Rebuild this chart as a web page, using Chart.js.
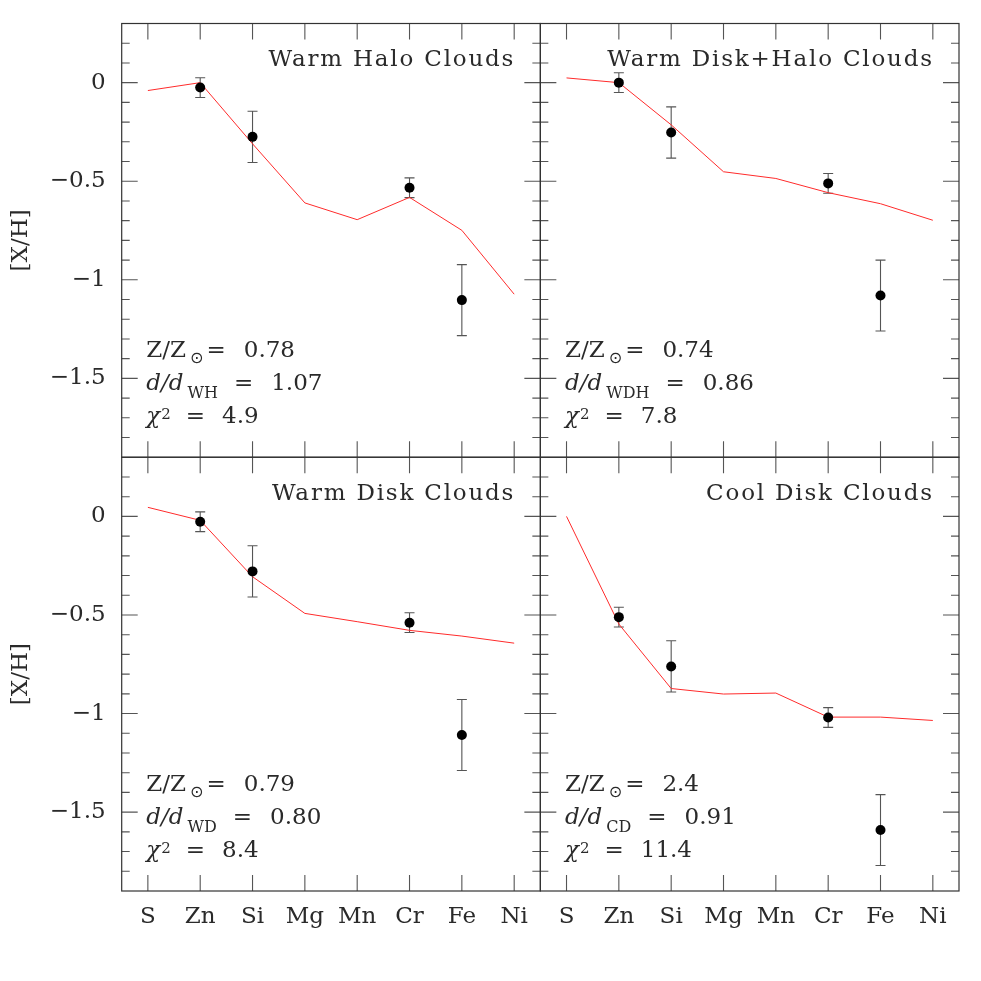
<!DOCTYPE html>
<html><head><meta charset="utf-8">
<script src="https://cdn.jsdelivr.net/npm/chart.js@4.4.1/dist/chart.umd.min.js"></script>
<style>html,body{margin:0;padding:0;background:#fff;}canvas{display:block;}</style>
</head><body>
<canvas id="c" width="981" height="981" style="width:981px;height:981px"></canvas>
<script>
// ---------------- data ----------------
const categories = ['S', 'Zn', 'Si', 'Mg', 'Mn', 'Cr', 'Fe', 'Ni'];
const yTickValues = [0, -0.5, -1, -1.5];
const panelTitles = ['Warm Halo Clouds', 'Warm Disk+Halo Clouds', 'Warm Disk Clouds', 'Cool Disk Clouds'];
const metallicity = ['0.78', '0.74', '0.79', '2.4'];
const dustSubscript = ['WH', 'WDH', 'WD', 'CD'];
const dustRatio = ['1.07', '0.86', '0.80', '0.91'];
const chiSquared = ['4.9', '7.8', '8.4', '11.4'];

const modelWarmHalo     = [-0.04, 0.0, -0.31, -0.61, -0.695, -0.582, -0.749, -1.073];
const modelWarmDiskHalo = [0.024, 0.0, -0.214, -0.452, -0.486, -0.558, -0.614, -0.698];
const modelWarmDisk     = [0.046, -0.02, -0.306, -0.492, -0.534, -0.578, -0.607, -0.643];
const modelCoolDisk     = [0.0, -0.546, -0.873, -0.901, -0.896, -1.018, -1.018, -1.035];

const obsWarmHalo     = [null, -0.025, -0.275, null, null, -0.533, -1.103, null];
const obsWarmDiskHalo = [null, 0.0, -0.253, null, null, -0.511, -1.080, null];
const obsWarmDisk     = [null, -0.027, -0.279, null, null, -0.539, -1.109, null];
const obsCoolDisk     = [null, -0.511, -0.761, null, null, -1.020, -1.591, null];
const obsError        = [null, 0.05, 0.13, null, null, 0.05, 0.18, null];

// ---------------- config ----------------
const panels = [
  {x: 'xL', y: 'yT', model: modelWarmHalo, obs: obsWarmHalo},
  {x: 'xR', y: 'yT', model: modelWarmDiskHalo, obs: obsWarmDiskHalo},
  {x: 'xL', y: 'yB', model: modelWarmDisk, obs: obsWarmDisk},
  {x: 'xR', y: 'yB', model: modelCoolDisk, obs: obsCoolDisk}
];

const FAM = '"DejaVu Serif", serif';
const TXT = '#2a2a2a';
const mainFont = {family: FAM, size: 23, lineHeight: 1.2};

const datasets = [];
panels.forEach((p, i) => {
  datasets.push({
    type: 'line', label: panelTitles[i] + ' data', data: p.obs,
    xAxisID: p.x, yAxisID: p.y, showLine: false,
    pointRadius: 5, pointHoverRadius: 5, pointBackgroundColor: '#000',
    pointBorderColor: '#000', pointBorderWidth: 0, order: 0
  });
  datasets.push({
    type: 'line', label: panelTitles[i] + ' model', data: p.model,
    xAxisID: p.x, yAxisID: p.y, borderColor: '#ff2b2b', borderWidth: 1,
    pointRadius: 0, pointHoverRadius: 0, fill: false, tension: 0, order: 1
  });
});

function xAxis() {
  return {
    type: 'category', labels: categories, position: 'bottom', stack: 'xs', offset: true,
    grid: {display: false, drawTicks: false}, border: {display: false},
    ticks: {font: mainFont, color: TXT, padding: 12, maxRotation: 0, autoSkip: false},
    afterFit(s) { s.height = 90; s.paddingLeft = 0; s.paddingRight = 0; }
  };
}
function yAxis() {
  return {
    type: 'linear', position: 'left', stack: 'ys', min: -1.9, max: 0.3,
    grid: {display: false, drawTicks: false}, border: {display: false},
    afterBuildTicks(s) { s.ticks = yTickValues.map(v => ({value: v})); },
    ticks: {font: mainFont, color: TXT, padding: 16,
      callback: v => (v < 0 ? '\u2212' : '') + Math.abs(v)},
    title: {display: true, text: '[X/H]', font: mainFont, color: TXT, padding: {top: 7, bottom: 0}},
    afterFit(s) { s.width = 121.7; s.paddingTop = 0; s.paddingBottom = 0; }
  };
}

function seg(ctx, text, x, y, font) {
  ctx.font = font;
  ctx.fillText(text, x, y);
  return x + ctx.measureText(text).width;
}

const panelPlugin = {
  id: 'panelDecor',
  beforeDatasetsDraw(chart) {
    const ctx = chart.ctx;
    panels.forEach(p => {
      const xs = chart.scales[p.x], ys = chart.scales[p.y];
      const L = xs.left, R = xs.right, T = ys.top, B = ys.bottom;
      ctx.save();
      ctx.strokeStyle = '#555';
      ctx.lineWidth = 1.1;
      ctx.beginPath();
      categories.forEach((c, i) => {
        const px = xs.getPixelForValue(i);
        ctx.moveTo(px, B); ctx.lineTo(px, B - 16);
        ctx.moveTo(px, T); ctx.lineTo(px, T + 16);
      });
      const k0 = Math.ceil(ys.min * 10 + 1e-6), k1 = Math.floor(ys.max * 10 - 1e-6);
      for (let k = k0; k <= k1; k++) {
        const py = ys.getPixelForValue(k / 10);
        const len = (k % 5 === 0) ? 16 : 8;
        ctx.moveTo(L, py); ctx.lineTo(L + len, py);
        ctx.moveTo(R, py); ctx.lineTo(R - len, py);
      }
      ctx.stroke();
      ctx.strokeStyle = '#333';
      ctx.lineWidth = 1.2;
      ctx.strokeRect(L, T, R - L, B - T);
      // error bars
      ctx.strokeStyle = '#555';
      ctx.lineWidth = 1.1;
      ctx.beginPath();
      p.obs.forEach((v, j) => {
        const e = obsError[j];
        if (v === null || e === null) return;
        const px = xs.getPixelForValue(j);
        const y1 = ys.getPixelForValue(v + e), y2 = ys.getPixelForValue(v - e);
        ctx.moveTo(px, y1); ctx.lineTo(px, y2);
        ctx.moveTo(px - 5, y1); ctx.lineTo(px + 5, y1);
        ctx.moveTo(px - 5, y2); ctx.lineTo(px + 5, y2);
      });
      ctx.stroke();
      ctx.restore();
    });
  },
  afterDraw(chart) {
    const ctx = chart.ctx;
    const main = '23px ' + FAM;
    const ital = 'italic 23px ' + FAM;
    const small = '16px ' + FAM;
    panels.forEach((p, i) => {
      const xs = chart.scales[p.x], ys = chart.scales[p.y];
      ctx.save();
      ctx.fillStyle = TXT;
      ctx.textBaseline = 'alphabetic';
      ctx.font = main;
      ctx.textAlign = 'right';
      ctx.letterSpacing = '1.8px';
      ctx.fillText(panelTitles[i], xs.getPixelForValue(categories.length - 1) + 1, ys.top + 42.5);
      ctx.letterSpacing = '0px';
      ctx.textAlign = 'left';
      const x0 = xs.getPixelForValue(0) - 1.5;
      // line 1: Z/Zsun
      let yb = ys.bottom - 100.5;
      let x = seg(ctx, 'Z/Z', x0, yb, main) + 4;
      x = seg(ctx, '\u2299', x, yb + 6, '16px "DejaVu Sans", sans-serif') + 3;
      x = seg(ctx, '=', x, yb, main) + 18;
      seg(ctx, metallicity[i], x, yb, main);
      // line 2: d/d_X
      yb = ys.bottom - 67.3;
      x = seg(ctx, 'd/d', x0, yb, ital) + 4;
      x = seg(ctx, dustSubscript[i], x, yb + 8, small) + 16;
      x = seg(ctx, '=', x, yb, main) + 18;
      seg(ctx, dustRatio[i], x, yb, main);
      // line 3: chi^2
      yb = ys.bottom - 34;
      x = seg(ctx, '\u03c7', x0, yb, ital) + 1;
      x = seg(ctx, '2', x, yb - 4, '15px ' + FAM) + 15;
      x = seg(ctx, '=', x, yb, main) + 17;
      seg(ctx, chiSquared[i], x, yb, main);
      ctx.restore();
    });
  }
};

new Chart(document.getElementById('c'), {
  type: 'line',
  data: {labels: categories, datasets: datasets},
  options: {
    responsive: false,
    animation: false,
    layout: {padding: {left: 0, top: 23.5, right: 22, bottom: 0}},
    plugins: {legend: {display: false}, tooltip: {enabled: false}},
    // left-side stacked axes are laid out in reverse order, so yB is listed before yT
    scales: {xL: xAxis(), xR: xAxis(), yB: yAxis(), yT: yAxis()}
  },
  plugins: [panelPlugin]
});
</script>
</body></html>
